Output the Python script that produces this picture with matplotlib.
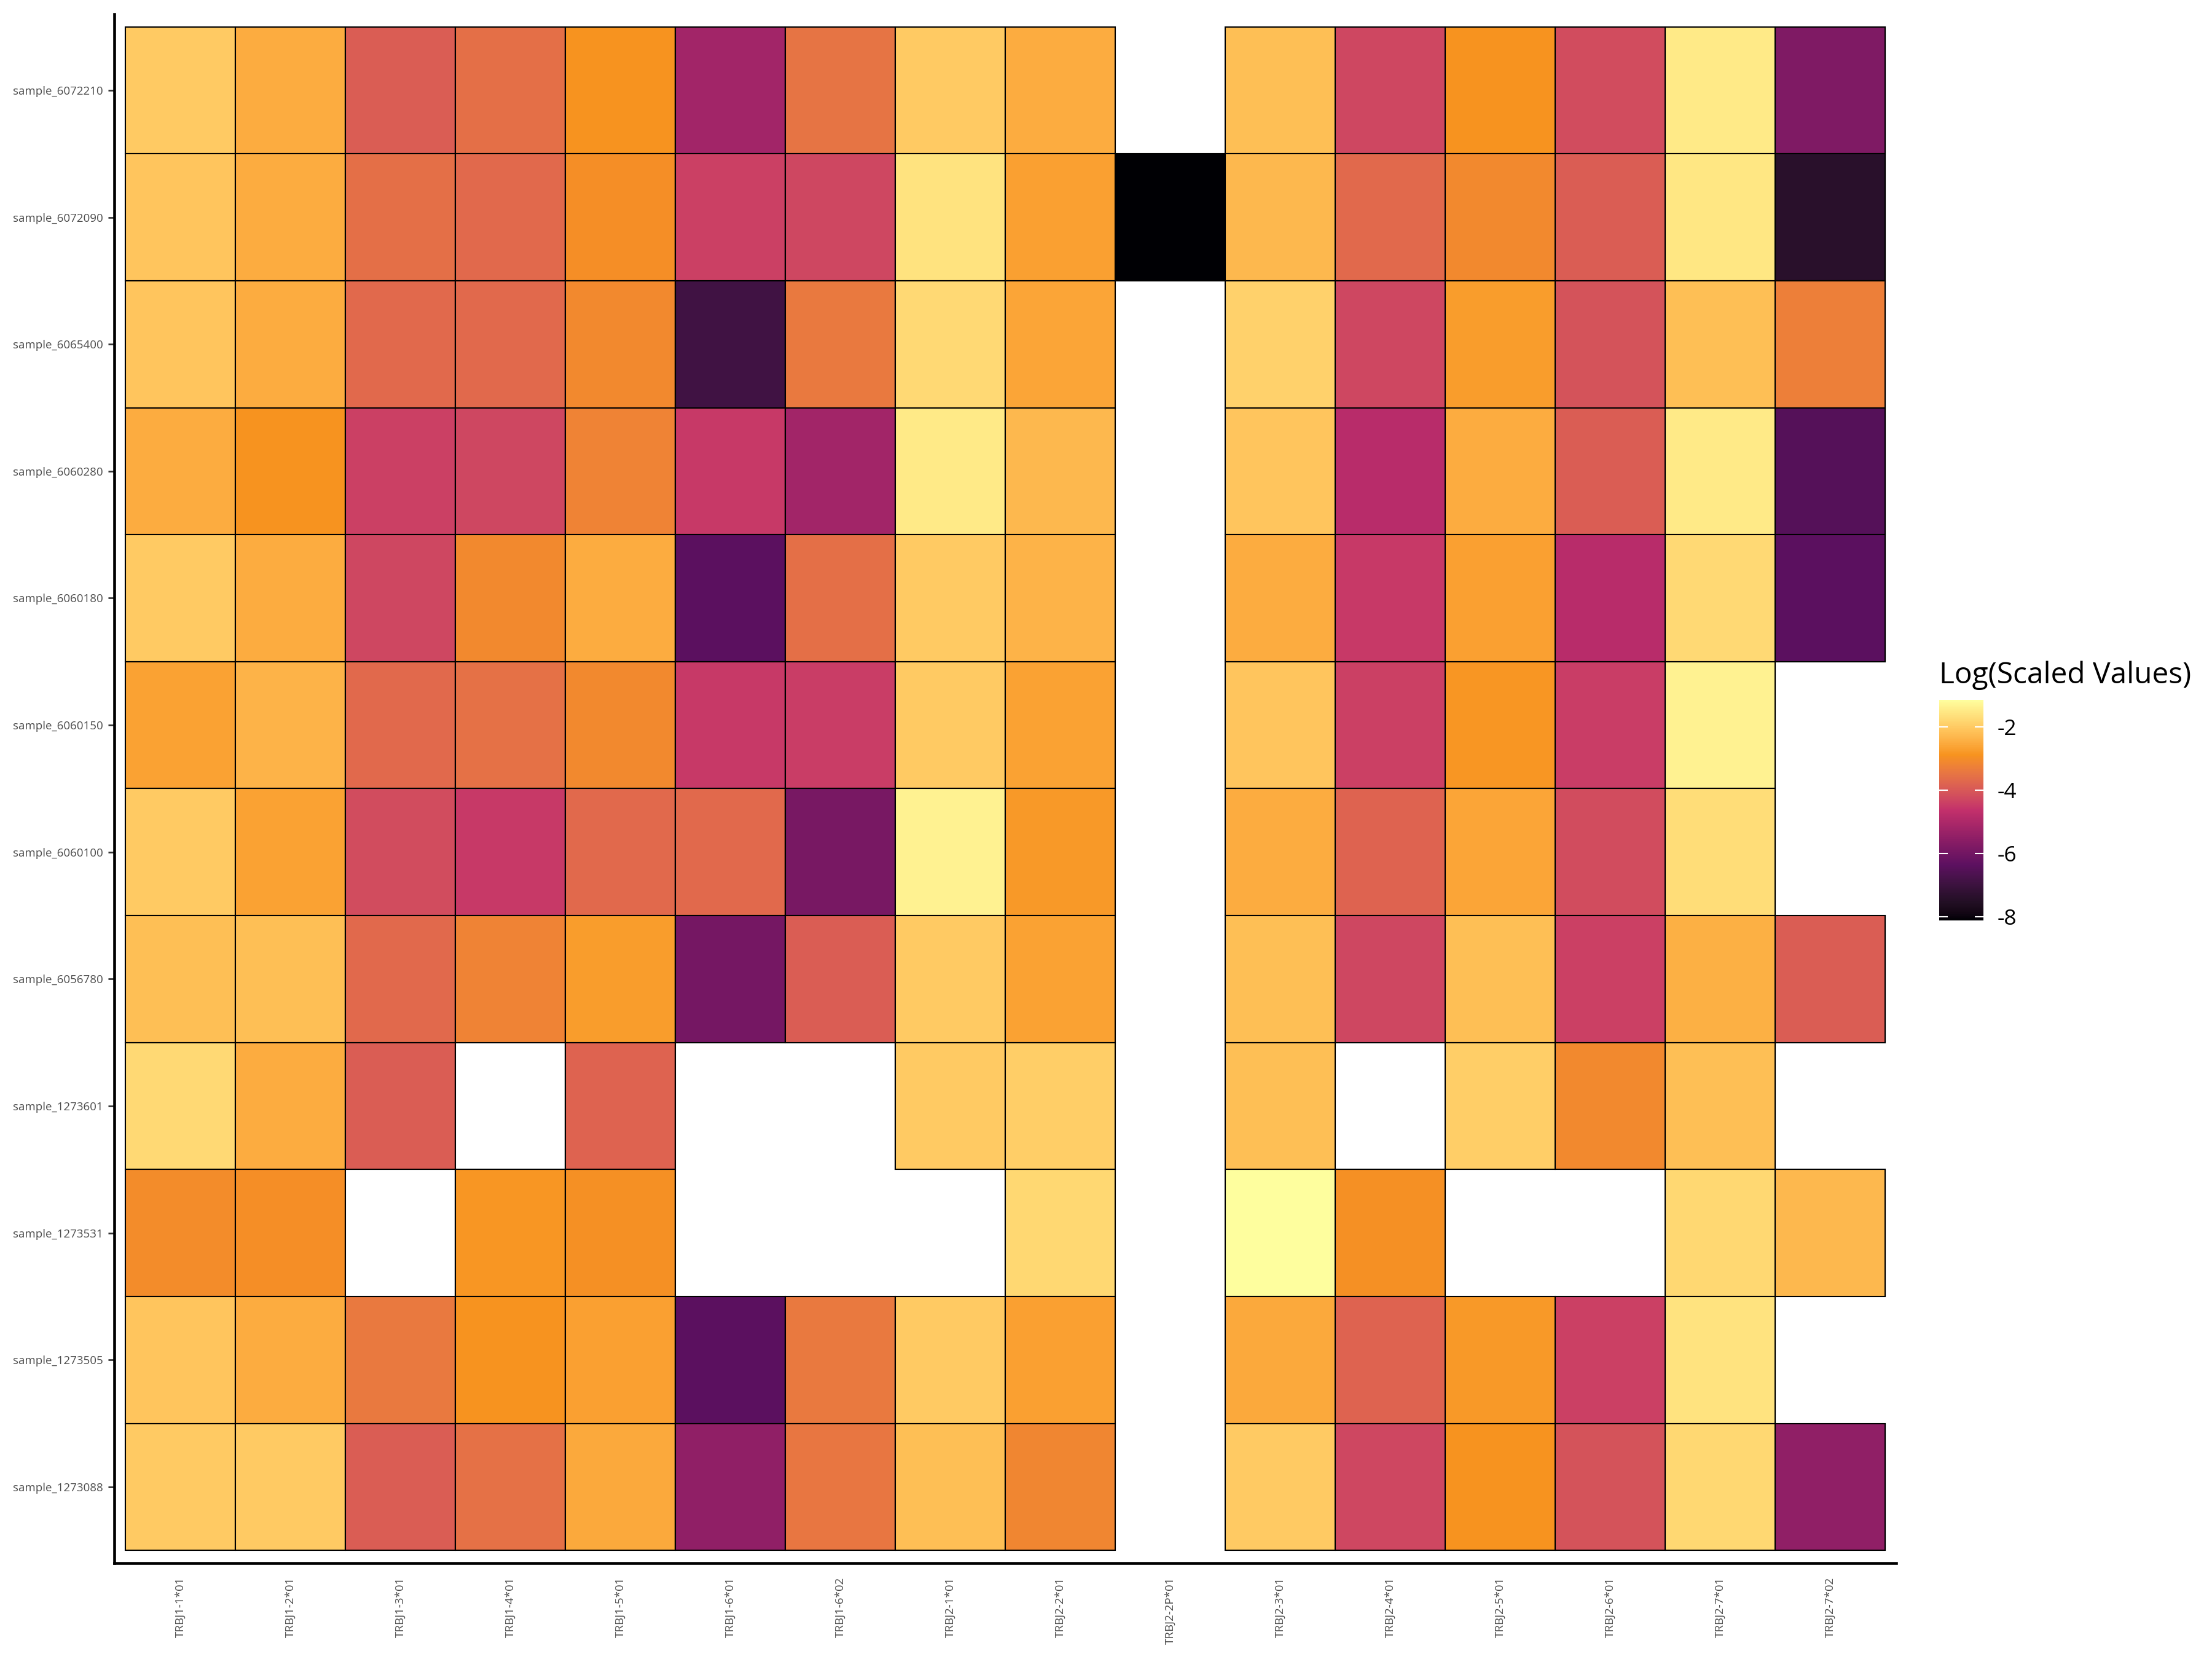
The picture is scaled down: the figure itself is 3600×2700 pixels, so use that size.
import numpy as np
import matplotlib
matplotlib.use("Agg")
import matplotlib.pyplot as plt
from matplotlib.colors import ListedColormap, Normalize, to_rgb
from matplotlib.cm import ScalarMappable

plt.rcParams['font.family'] = ['Open Sans', 'DejaVu Sans']
plt.rcParams['axes.unicode_minus'] = False

samples = ['sample_6072210', 'sample_6072090', 'sample_6065400', 'sample_6060280',
           'sample_6060180', 'sample_6060150', 'sample_6060100', 'sample_6056780',
           'sample_1273601', 'sample_1273531', 'sample_1273505', 'sample_1273088']
genes = ['TRBJ1-1*01', 'TRBJ1-2*01', 'TRBJ1-3*01', 'TRBJ1-4*01', 'TRBJ1-5*01',
         'TRBJ1-6*01', 'TRBJ1-6*02', 'TRBJ2-1*01', 'TRBJ2-2*01', 'TRBJ2-2P*01',
         'TRBJ2-3*01', 'TRBJ2-4*01', 'TRBJ2-5*01', 'TRBJ2-6*01', 'TRBJ2-7*01',
         'TRBJ2-7*02']
nan = np.nan

# log scaled values, one row per sample (top to bottom), one column per gene
row_6072210 = [-2.0, -2.5, -3.9, -3.6, -2.9, -5.2, -3.5, -2.0, -2.5, nan, -2.2, -4.3, -2.9, -4.2, -1.5, -5.8]
row_6072090 = [-2.1, -2.5, -3.6, -3.7, -3.0, -4.4, -4.3, -1.6, -2.7, -8.12, -2.3, -3.7, -3.1, -3.9, -1.55, -7.4]
row_6065400 = [-2.1, -2.5, -3.7, -3.7, -3.1, -6.9, -3.4, -1.75, -2.6, nan, -1.9, -4.3, -2.75, -4.1, -2.2, -3.3]
row_6060280 = [-2.5, -2.9, -4.4, -4.3, -3.2, -4.5, -5.2, -1.5, -2.3, nan, -2.1, -4.8, -2.5, -3.9, -1.5, -6.5]
row_6060180 = [-2.0, -2.5, -4.3, -3.1, -2.5, -6.4, -3.6, -2.0, -2.4, nan, -2.5, -4.5, -2.7, -4.8, -1.75, -6.4]
row_6060150 = [-2.65, -2.4, -3.7, -3.55, -3.1, -4.5, -4.45, -2.0, -2.65, nan, -2.1, -4.4, -2.85, -4.45, -1.35, nan]
row_6060100 = [-2.0, -2.65, -4.2, -4.5, -3.7, -3.7, -5.9, -1.35, -2.8, nan, -2.5, -3.8, -2.6, -4.2, -1.7, nan]
row_6056780 = [-2.2, -2.2, -3.7, -3.2, -2.75, -5.95, -3.9, -2.0, -2.65, nan, -2.2, -4.3, -2.2, -4.4, -2.45, -3.9]
row_1273601 = [-1.75, -2.5, -3.9, nan, -3.8, nan, nan, -2.0, -1.95, nan, -2.2, nan, -1.95, -3.1, -2.2, nan]
row_1273531 = [-3.05, -3.0, nan, -2.85, -2.95, nan, nan, nan, -1.8, nan, -1.15, -2.95, nan, nan, -1.8, -2.3]
row_1273505 = [-2.1, -2.5, -3.4, -2.9, -2.7, -6.4, -3.4, -2.0, -2.7, nan, -2.55, -3.8, -2.8, -4.4, -1.6, nan]
row_1273088 = [-2.0, -2.0, -3.9, -3.55, -2.55, -5.5, -3.45, -2.2, -3.15, nan, -2.0, -4.3, -2.9, -4.1, -1.8, -5.5]

values = np.array([row_6072210, row_6072090, row_6065400, row_6060280, row_6060180,
                   row_6060150, row_6060100, row_6056780, row_1273601, row_1273531,
                   row_1273505, row_1273088])

anchor_colors = ['#000004', '#5c1060', '#c3306b', '#f7931e', '#fefe9e']


# gradient interpolated in Lab space (like ggplot's gradientn)
def srgb_to_lab(rgb):
    rgb = np.asarray(rgb, dtype=float)
    lin = np.where(rgb <= 0.04045, rgb / 12.92, ((rgb + 0.055) / 1.055) ** 2.4)
    m = np.array([[0.4124, 0.3576, 0.1805],
                  [0.2126, 0.7152, 0.0722],
                  [0.0193, 0.1192, 0.9505]])
    xyz = lin @ m.T / np.array([0.95047, 1.0, 1.08883])
    f = np.where(xyz > 0.008856, np.cbrt(xyz), 7.787 * xyz + 16 / 116)
    L = 116 * f[..., 1] - 16
    a = 500 * (f[..., 0] - f[..., 1])
    b = 200 * (f[..., 1] - f[..., 2])
    return np.stack([L, a, b], axis=-1)


def lab_to_srgb(lab):
    L, a, b = lab[..., 0], lab[..., 1], lab[..., 2]
    fy = (L + 16) / 116
    fx = fy + a / 500
    fz = fy - b / 200
    f = np.stack([fx, fy, fz], axis=-1)
    xyz = np.where(f ** 3 > 0.008856, f ** 3, (f - 16 / 116) / 7.787)
    xyz = xyz * np.array([0.95047, 1.0, 1.08883])
    minv = np.array([[3.2406, -1.5372, -0.4986],
                     [-0.9689, 1.8758, 0.0415],
                     [0.0557, -0.2040, 1.0570]])
    lin = xyz @ minv.T
    lin = np.clip(lin, 0, 1)
    rgb = np.where(lin <= 0.0031308, lin * 12.92, 1.055 * lin ** (1 / 2.4) - 0.055)
    return np.clip(rgb, 0, 1)


labs = srgb_to_lab([to_rgb(c) for c in anchor_colors])
pos = np.linspace(0, 1, len(anchor_colors))
t = np.linspace(0, 1, 256)
lab_grid = np.stack([np.interp(t, pos, labs[:, k]) for k in range(3)], axis=-1)
cmap = ListedColormap(lab_to_srgb(lab_grid))

vmin, vmax = np.nanmin(values), np.nanmax(values)
norm = Normalize(vmin=vmin, vmax=vmax)

fig = plt.figure(figsize=(12, 9), dpi=300)
ax = fig.add_axes([0.0517, 0.0578, 0.8055, 0.9337])

n_rows = len(samples)
for i, sample in enumerate(samples):
    row = values[i]
    ok = ~np.isnan(row)
    xs = np.arange(1, len(genes) + 1)[ok]
    ypos = n_rows - i
    ax.barh(np.full(xs.shape, ypos), width=1.0, left=xs - 0.5, height=1.0,
            color=cmap(norm(row[ok])), edgecolor='black', linewidth=0.5)

ax.set_xlim(0.4, len(genes) + 0.6)
ax.set_ylim(0.4, n_rows + 0.6)
ax.set_xticks(np.arange(1, len(genes) + 1))
ax.set_xticklabels(genes, rotation=90, fontsize=4.5, color='#4d4d4d')
ax.set_yticks(np.arange(n_rows, 0, -1))
ax.set_yticklabels(samples, fontsize=4.5, color='#4d4d4d')
ax.tick_params(axis='x', length=0, pad=5.5)
ax.tick_params(axis='y', length=2.4, width=0.65, color='#333333', pad=2)

for side in ['top', 'right']:
    ax.spines[side].set_visible(False)
for side in ['left', 'bottom']:
    ax.spines[side].set_linewidth(1.1)
    ax.spines[side].set_color('black')

# colour bar legend
cax = fig.add_axes([0.8767, 0.4452, 0.02, 0.133])
sm = ScalarMappable(norm=norm, cmap=cmap)
cb = fig.colorbar(sm, cax=cax, ticks=[-2, -4, -6, -8])
cb.outline.set_visible(False)
cax.tick_params(axis='y', direction='in', length=3.3, width=0.5, colors='white',
                left=True, right=True, labelleft=False, labelright=True, pad=5.5)
for lab in cax.get_yticklabels():
    lab.set_color('black')
    lab.set_fontsize(8.5)

fig.text(0.8767, 0.5881, 'Log(Scaled Values)', fontsize=11.5, ha='left', va='baseline')

fig.savefig('out.png', dpi=300)
